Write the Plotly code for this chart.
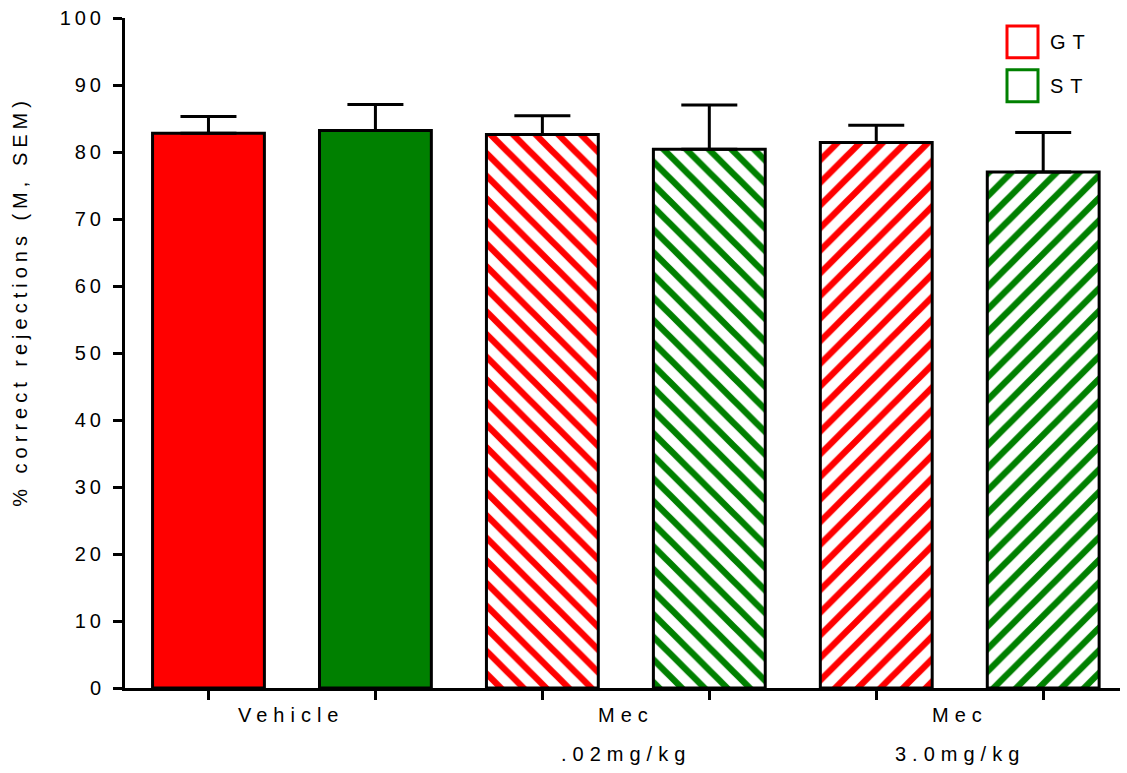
import plotly.graph_objects as go

# Data: mean % correct rejections and SEM per group
conditions = ["Vehicle", "Mec .02mg/kg", "Mec 3.0mg/kg"]
gt_mean = [82.8, 82.6, 81.4]
gt_sem = [2.5, 2.8, 2.6]
st_mean = [83.2, 80.4, 77.0]
st_sem = [3.9, 6.6, 5.9]
patterns = ["", "\\", "/"]

label_line1 = ["Vehicle", "Mec", "Mec"]
label_line2 = ["", ".02mg/kg", "3.0mg/kg"]
y_ticks = list(range(0, 101, 10))

RED = "#ff0000"
GREEN = "#008000"
FONT = "Arial, Liberation Sans, sans-serif"
FS = 20


def spaced(s, px=6):
    return f'<span style="letter-spacing:{px}px">{s}</span>'


gt_x = [2 * i for i in range(len(conditions))]
st_x = [2 * i + 1 for i in range(len(conditions))]
group_x = [2 * i + 0.5 for i in range(len(conditions))]
bar_ticks = sorted(gt_x + st_x)

fig = go.Figure()


def add_series(xs, means, sems, color, name):
    fig.add_trace(go.Bar(
        x=xs, y=means, name=name, width=0.67,
        marker=dict(
            color=color,
            line=dict(color="black", width=3),
            pattern=dict(shape=patterns, fgcolor=color, bgcolor="white",
                         size=16, solidity=0.4, fillmode="replace"),
        ),
        error_y=dict(type="data", symmetric=False, array=sems,
                     arrayminus=[0] * len(sems), color="black",
                     thickness=3, width=28),
        showlegend=False,
    ))


add_series(gt_x, gt_mean, gt_sem, RED, "GT")
add_series(st_x, st_mean, st_sem, GREEN, "ST")

xr = [-0.5, 5.46]

fig.update_layout(
    width=1127, height=773,
    margin=dict(l=125, r=7, t=15, b=85),
    plot_bgcolor="white", paper_bgcolor="white",
    barmode="overlay",
    font=dict(family=FONT, size=FS, color="black"),
    xaxis=dict(
        range=xr, showgrid=False, zeroline=False,
        showline=True, linecolor="black", linewidth=3,
        ticks="outside", ticklen=9, tickwidth=3, tickcolor="black",
        tickvals=bar_ticks, ticktext=[""] * len(bar_ticks),
    ),
    yaxis=dict(
        range=[0, 100], showgrid=False, zeroline=False,
        showline=True, linecolor="black", linewidth=3,
        ticks="outside", ticklen=9, tickwidth=3, tickcolor="black",
        tickvals=y_ticks, ticktext=[spaced(str(v), 4) for v in y_ticks],
        tickfont=dict(family=FONT, size=FS, color="black"),
        ticklabelstandoff=4,
    ),
)

# Plot-area pixel helpers for paper-referenced placement
W, H = 995, 673


def px_x(p):
    return (p - 125) / W


def px_y(p):
    return (688 - p) / H


# Y-axis title
fig.add_annotation(xref="paper", yref="paper", x=px_x(20), y=px_y(300),
                   xanchor="center", yanchor="middle", textangle=-90,
                   text=spaced("% correct rejections (M, SEM)", 5),
                   showarrow=False, font=dict(family=FONT, size=FS))

# Category labels under each group
for gx, l1, l2 in zip(group_x, label_line1, label_line2):
    fig.add_annotation(xref="x", yref="paper", x=gx, y=0, yshift=-27,
                       xanchor="center", yanchor="middle", text=spaced(l1, 6),
                       showarrow=False, font=dict(family=FONT, size=FS))
    if l2:
        fig.add_annotation(xref="x", yref="paper", x=gx, y=0, yshift=-66,
                           xanchor="center", yanchor="middle", text=spaced(l2, 6),
                           showarrow=False, font=dict(family=FONT, size=FS))

# Legend: open boxes with coloured outlines
for (top, bottom, color, text) in [(23, 55, RED, "GT"), (67, 99, GREEN, "ST")]:
    fig.add_shape(type="rect", xref="paper", yref="paper",
                  x0=px_x(1007), x1=px_x(1038), y0=px_y(bottom), y1=px_y(top),
                  line=dict(color=color, width=3), fillcolor="white")
    fig.add_annotation(xref="paper", yref="paper", x=px_x(1048),
                       y=px_y((top + bottom) / 2), xanchor="left", yanchor="middle",
                       text=spaced(text, 7), showarrow=False,
                       font=dict(family=FONT, size=FS, color="black"))

fig.write_html("out.html")
